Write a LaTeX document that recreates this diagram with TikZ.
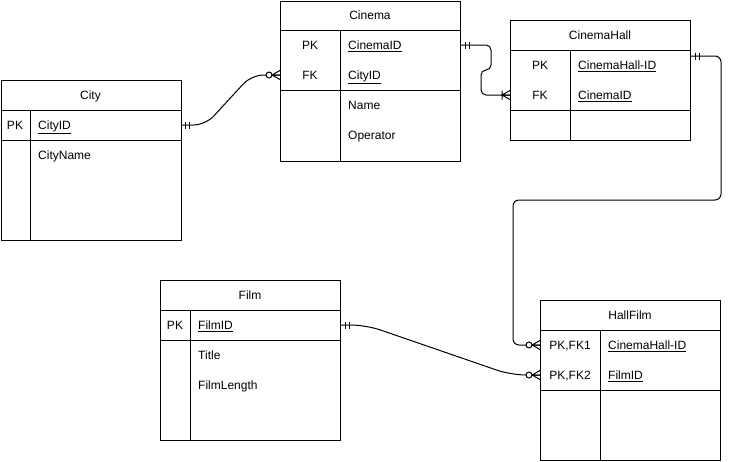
\documentclass[tikz,border=0pt]{standalone}
\usepackage{fontspec}
\setmainfont{Liberation Sans}
\newcommand{\erfont}{\fontsize{12}{14}\selectfont}
\tikzset{
   erline/.style={line width=1pt},
   erbox/.style={draw, erline, anchor=north west, minimum width=#1},
   ertitle/.style={font=\erfont},
   erkey/.style={font=\erfont},
   erattr/.style={anchor=west},
   relation/.style={erline, rounded corners=6pt},
   mandone/.pic={
      \draw[erline] (4,-3.5) -- (4,3.5) (8,-3.5) -- (8,3.5);
   },
   zeromany/.pic={
      \draw[erline] (0,-4.5) -- (8,0) -- (0,4.5) (0,0) -- (8,0);
      \draw[erline, fill=white] (11,0) circle[radius=3pt];
   },
   onemany/.pic={
      \draw[erline] (0,-4.5) -- (8,0) -- (0,4.5) (0,0) -- (8,0) (8,-4.5) -- (8,4.5);
   }
}
\begin{document}
\begin{tikzpicture}[x=1pt, y=-1pt,
      every node/.style={font=\erfont, inner sep=0pt, text height=8.6pt, text depth=0pt}]
   \useasboundingbox (0,0) rectangle (730,461);
   \def \Tables {
      city/0.5/80/180/160/30/1/City,
      cinema/280/0.5/180/160/60/2/Cinema,
      hall/510/20/180/120/60/2/CinemaHall,
      film/160/280/180/160/30/1/Film,
      hallfilm/540/300/180/160/60/2/HallFilm}
   \def \Keys {
      cityid/15/38/125/PK/CityID,
      cinemaid/310/348/45/PK/CinemaID,
      cinemacity/310/348/75/FK/CityID,
      hallid/540/578/65/PK/CinemaHall-ID,
      hallcinema/540/578/95/FK/CinemaID,
      filmid/175/198/325/PK/FilmID,
      hfhall/570/608/345/{PK,FK1}/CinemaHall-ID,
      hffilm/570/608/375/{PK,FK2}/FilmID}
   \def \Fields {
      cityname/38/155/CityName,
      cinname/348/105/Name,
      cinop/348/135/Operator,
      filmtitle/198/355/Title,
      filmlen/198/385/FilmLength}
   % tables
   \foreach \n / \x / \y / \w / \h / \kw / \nk / \heading in \Tables {
      \node[erbox=\w, minimum height=\h] (\n) at (\x, \y) {};
      \node[ertitle] (\n-title) at (\x + \w/2, \y + 15) {\heading};
      \draw[erline] (\x, \y + 30) -- ++(\w, 0);
      \draw[erline] (\x, \y + 30 + 30*\nk) -- ++(\w, 0);
      \draw[erline] (\x + \kw, \y + 30) -- (\x + \kw, \y + \h);
   }
   % key rows
   \foreach \n / \kx / \ax / \y / \kname / \aname in \Keys {
      \node[erkey] (\n-key) at (\kx, \y) {\kname};
      \node[erattr] (\n) at (\ax, \y) {\underline{\aname}};
   }
   % plain rows
   \foreach \n / \ax / \y / \aname in \Fields {
      \node[erattr] (\n) at (\ax, \y) {\aname};
   }
   % relations
   \coordinate (hallout) at ([yshift=-36pt]hall.north east);
   \draw[relation, rounded corners=12pt] (city.east |- cityid) -- ++(24,0) -- ++(46,-50) -- (cinema.west |- cinemacity);
   \draw[relation, rounded corners=5pt] (cinema.east |- cinemaid) -- ++(30,0) -- ++(0,25) -- ++(-10,0) |- (hall.west |- hallcinema);
   \draw[relation] (hallout) -| ++(30,144) -| ++(-208,145) -- (hallfilm.west |- hfhall);
   \draw[relation, rounded corners=15pt] (film.east |- filmid) -- ++(25,0) -- ++(145,50) -- (hallfilm.west |- hffilm);
   % end marks
   \pic at (city.east |- cityid) {mandone};
   \pic[rotate=180] at (cinema.west |- cinemacity) {zeromany};
   \pic at (cinema.east |- cinemaid) {mandone};
   \pic[rotate=180] at (hall.west |- hallcinema) {onemany};
   \pic at (hallout) {mandone};
   \pic[rotate=180] at (hallfilm.west |- hfhall) {zeromany};
   \pic at (film.east |- filmid) {mandone};
   \pic[rotate=180] at (hallfilm.west |- hffilm) {zeromany};
\end{tikzpicture}
\end{document}
